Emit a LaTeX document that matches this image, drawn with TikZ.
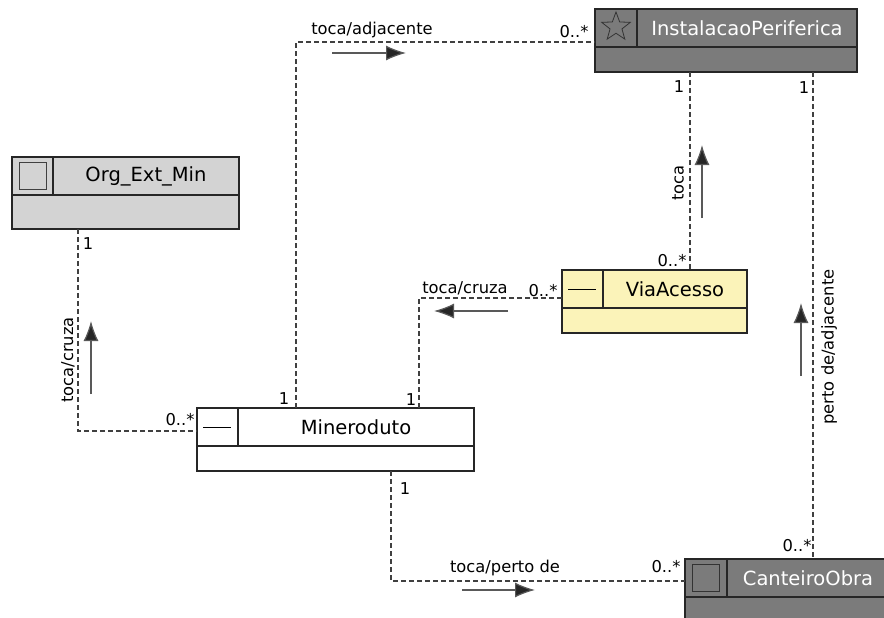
\documentclass[tikz,border=0pt]{standalone}
\usepackage{fontspec}
\setmainfont{DejaVu Sans}
\usetikzlibrary{arrows.meta,shapes.geometric}

\definecolor{clsdark}{HTML}{7B7B7B}
\definecolor{clslight}{HTML}{D3D3D3}
\definecolor{clsyellow}{HTML}{FBF3B9}

\begin{document}
\begin{tikzpicture}[x=1pt,y=-1pt,
  cls/.style={draw=black!85,line width=1.3pt,rectangle,inner sep=0pt,outer sep=0pt,minimum height=38pt,font=\fontsize{19.5}{21}\selectfont,anchor=north west},
  ico/.style={cls,minimum width=42pt,anchor=north east},
  comp/.style={draw=black!85,line width=1.3pt,rectangle,inner sep=0pt,outer sep=0pt,minimum height=25pt,anchor=north west},
  assoc/.style={draw=black!75,line width=1.1pt,dash pattern=on 5pt off 3pt},
  dir/.style={draw=black!65,line width=1.2pt,-{Latex[length=20pt,width=15pt,fill=black!85]}},
  lbl/.style={font=\fontsize{16.3}{18}\selectfont,inner sep=0pt},
  mult/.style={font=\fontsize{16.3}{18}\selectfont,inner sep=0pt}]
\useasboundingbox (0,0) rectangle (884,618);

% classes
\node[cls,fill=clsdark,text=white,minimum width=220pt] (inst) at (637,9) {InstalacaoPeriferica};
\node[ico,fill=clsdark] (instI) at (inst.north west) {};
\node[comp,fill=clsdark,minimum width=262pt] (instC) at (instI.south west) {};
\node[star,star points=5,star point ratio=2.4,draw=black!80,line width=0.8pt,minimum size=30pt,inner sep=0pt] (instS) at ([yshift=1pt]instI.center) {};

\node[cls,fill=clslight,minimum width=186pt] (org) at (53,157) {Org\_Ext\_Min};
\node[ico,fill=clslight,minimum width=41pt] (orgI) at (org.north west) {};
\node[comp,fill=clslight,minimum width=227pt,minimum height=34pt] (orgC) at (orgI.south west) {};
\node[rectangle,draw=black!75,line width=1pt,fill=clslight,minimum size=27pt,inner sep=0pt] (orgS) at (orgI) {};

\node[cls,fill=clsyellow,minimum width=144pt] (via) at (603,270) {ViaAcesso};
\node[ico,fill=clsyellow,minimum width=41pt] (viaI) at (via.north west) {};
\node[comp,fill=clsyellow,minimum width=185pt] (viaC) at (viaI.south west) {};
\draw[line width=1pt] ([xshift=6pt]viaI.west) -- ([xshift=-7pt]viaI.east);

\node[cls,fill=white,minimum width=236pt] (mino) at (238,408) {Mineroduto};
\node[ico,fill=white,minimum width=41pt] (minoI) at (mino.north west) {};
\node[comp,fill=white,minimum width=277pt] (minoC) at (minoI.south west) {};
\draw[line width=1pt] ([xshift=6pt]minoI.west) -- ([xshift=-7pt]minoI.east);

\node[cls,fill=clsdark,text=white,minimum width=162pt] (cant) at (727,559) {CanteiroObra};
\node[ico,fill=clsdark] (cantI) at (cant.north west) {};
\node[comp,fill=clsdark,minimum width=204pt,minimum height=40pt] (cantC) at (cantI.south west) {};
\node[rectangle,draw=black!80,line width=1pt,fill=clsdark,minimum size=27pt,inner sep=0pt] (cantS) at (cantI) {};

% associations
\coordinate (c1) at (296,42);
\coordinate (c2) at (690,0);
\coordinate (c3) at (813,0);
\coordinate (c4) at (78,431);
\coordinate (c5) at (419,298);
\coordinate (c6) at (391,581);
\draw[assoc] (mino.north -| c1) |- (instI.west |- c1);
\draw[assoc] (instC.south -| c2) -- (via.north -| c2);
\draw[assoc] (instC.south -| c3) -- (cant.north -| c3);
\draw[assoc] (orgC.south -| c4) |- (minoI.west |- c4);
\draw[assoc] (viaI.west |- c5) -| (mino.north -| c5);
\draw[assoc] (minoC.south -| c6) |- (cantI.west |- c6);

% reading direction
\foreach \n/\sx/\sy/\ex/\ey in %
{1/332/53/406/53,2/702/218/702/145,3/801/376/801/303,4/91/394/91/321,5/508/311/434/311,6/462/590/535/590} {
   \coordinate (d\n a) at (\sx,\sy);
   \coordinate (d\n b) at (\ex,\ey);
   \draw[dir] (d\n a) -- (d\n b);
}

% role names
\node[lbl] (l1) at (372,30) {toca/adjacente};
\node[lbl,rotate=90] (l2) at (678,183) {toca};
\node[lbl,rotate=90] (l3) at (829,347) {perto de/adjacente};
\node[lbl,rotate=90] (l4) at (68,360) {toca/cruza};
\node[lbl] (l5) at (465,288) {toca/cruza};
\node[lbl] (l6) at (505,568) {toca/perto de};

% multiplicities
\foreach \n/\x/\y/\t in %
{1/574/32/0..*,2/284/399/1,3/679/87/1,4/672/261/0..*,5/804/88/1,6/797/546/0..*,%
7/88/244/1,8/180/420/0..*,9/543/291/0..*,10/411/400/1,11/405/489/1,12/666/567/0..*} {
   \node[mult] (m\n) at (\x,\y) {\t};
}
\end{tikzpicture}
\end{document}
